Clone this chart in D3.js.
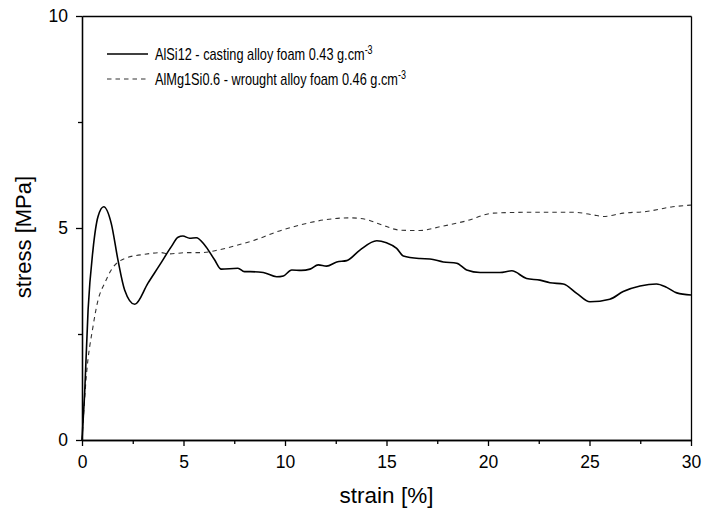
<html>
<head>
<style>
body { margin: 0; background: #fff; }
text { font-family: "Liberation Sans", Arial, sans-serif; fill: #000; }
.tick text { font-size: 17.5px; }
.axis path, .axis line { stroke: #000; stroke-width: 1.3px; }
.cast { stroke: #000; stroke-width: 1.6px; fill: none; }
.wrought { stroke: #333; stroke-width: 1.1px; fill: none; stroke-dasharray: 4.5,4; }
</style>
</head>
<body>
<script src="https://d3js.org/d3.v7.min.js"></script>
<script>

var width = 708;
var height = 516;
var margin = {left: 82, right: 17, top: 16, bottom: 76};

// AlSi12 - casting alloy foam
var castStrain = [0, 0.13, 0.3, 0.54, 0.79, 1.07, 1.44, 1.77, 2.1, 2.6, 3.25, 3.83, 4.4, 4.73, 4.97, 5.3, 5.63, 6.04, 6.53, 6.86, 7.68, 8.0, 8.28, 8.93, 9.59, 9.92, 10.33, 10.8, 11.23, 11.64, 12.05, 12.55, 13.04, 13.69, 14.52, 15.0, 15.5, 15.83, 16.65, 17.14, 17.8, 18.46, 18.95, 19.61, 20.59, 21.17, 21.9, 22.56, 23.05, 23.71, 24.37, 25.02, 26.0, 26.66, 27.49, 28.3, 28.8, 29.3, 30];
var castStress = [0, 1.1, 3.07, 4.48, 5.27, 5.50, 5.11, 4.25, 3.54, 3.20, 3.7, 4.13, 4.56, 4.78, 4.81, 4.76, 4.77, 4.6, 4.25, 4.03, 4.05, 3.97, 3.97, 3.95, 3.85, 3.87, 4.01, 4.0, 4.03, 4.13, 4.1, 4.2, 4.23, 4.48, 4.7, 4.65, 4.52, 4.34, 4.28, 4.27, 4.2, 4.17, 4.01, 3.95, 3.95, 3.99, 3.81, 3.77, 3.71, 3.68, 3.46, 3.26, 3.32, 3.5, 3.63, 3.68, 3.6, 3.47, 3.42];

// AlMg1Si0.6 - wrought alloy foam
var wroughtStrain = [0, 0.21, 0.54, 0.79, 1.12, 1.44, 2.1, 3.09, 3.91, 4.24, 5.22, 5.88, 6.7, 7.68, 8.67, 9.59, 10.74, 12.05, 13.2, 14.0, 14.68, 15.67, 16.65, 17.64, 18.95, 20.26, 21.9, 23.2, 24.2, 25.18, 25.67, 26.66, 27.8, 29.1, 30];
var wroughtStress = [0, 1.49, 2.67, 3.30, 3.70, 4.01, 4.28, 4.38, 4.42, 4.39, 4.42, 4.42, 4.48, 4.6, 4.74, 4.91, 5.07, 5.2, 5.24, 5.2, 5.09, 4.95, 4.94, 5.03, 5.17, 5.35, 5.37, 5.37, 5.37, 5.31, 5.27, 5.35, 5.39, 5.5, 5.54];

var xMajor = [0, 5, 10, 15, 20, 25, 30];
var xMinor = [2.5, 7.5, 12.5, 17.5, 22.5, 27.5];
var yMajor = [0, 5, 10];
var yMinor = [2.5, 7.5];

var svg = d3.select("body").append("svg")
	.attr("width", width)
	.attr("height", height)

var x = d3.scaleLinear().domain([0, 30]).range([margin.left, width - margin.right]);
var y = d3.scaleLinear().domain([0, 10]).range([height - margin.bottom, margin.top]);

// frame: top and right plain
svg.append("g").attr("class", "axis")
	.attr("transform", "translate(0," + margin.top + ")")
	.call(d3.axisTop(x).tickValues([]).tickSizeOuter(0))
svg.append("g").attr("class", "axis")
	.attr("transform", "translate(" + (width - margin.right) + ",0)")
	.call(d3.axisRight(y).tickValues([]).tickSizeOuter(0))

// bottom
svg.append("g").attr("class", "axis")
	.attr("transform", "translate(0," + (height - margin.bottom) + ")")
	.call(d3.axisBottom(x).tickValues(xMinor).tickSize(4).tickSizeOuter(0).tickFormat(""))
svg.append("g").attr("class", "axis")
	.attr("transform", "translate(0," + (height - margin.bottom) + ")")
	.call(d3.axisBottom(x).tickValues(xMajor).tickSize(6).tickSizeOuter(0).tickPadding(10).tickFormat(d3.format("d")))

// left
svg.append("g").attr("class", "axis")
	.attr("transform", "translate(" + margin.left + ",0)")
	.call(d3.axisLeft(y).tickValues(yMinor).tickSize(4).tickSizeOuter(0).tickFormat(""))
svg.append("g").attr("class", "axis")
	.attr("transform", "translate(" + margin.left + ",0)")
	.call(d3.axisLeft(y).tickValues(yMajor).tickSize(6).tickSizeOuter(0).tickPadding(8).tickFormat(d3.format("d")))

svg.selectAll(".tick text").attr("fill", "#000")

// titles
svg.append("text")
	.attr("x", (margin.left + width - margin.right) / 2)
	.attr("y", 503)
	.attr("text-anchor", "middle")
	.style("font-size", "22.5px")
	.text("strain [%]")

svg.append("text")
	.attr("transform", "translate(31,237) rotate(-90)")
	.attr("text-anchor", "middle")
	.style("font-size", "22px")
	.text("stress [MPa]")

// curves
var line = function(xs, ys) {
	return d3.line()
		.x(function(d, i) { return x(xs[i]); })
		.y(function(d, i) { return y(ys[i]); })
		.curve(d3.curveMonotoneX)(xs)
}

svg.append("path").attr("class", "wrought").attr("d", line(wroughtStrain, wroughtStress))
svg.append("path").attr("class", "cast").attr("d", line(castStrain, castStress))

// legend (the original font is condensed, so squeeze it a bit)
var legend = [
	{cls: "cast", label: "AlSi12 - casting alloy foam 0.43 g.cm", y: 54},
	{cls: "wrought", label: "AlMg1Si0.6 - wrought alloy foam 0.46 g.cm", y: 79}
]
legend.forEach(function(d) {
	svg.append("line").attr("class", d.cls)
		.attr("x1", 107).attr("x2", 148)
		.attr("y1", d.y).attr("y2", d.y)
	var t = svg.append("text")
		.attr("transform", "translate(155," + (d.y + 6) + ") scale(0.75,1)")
		.style("font-size", "17px")
	t.append("tspan").text(d.label)
	t.append("tspan").attr("dy", -6).style("font-size", "12px").text("-3")
})

</script>
</body>
</html>
